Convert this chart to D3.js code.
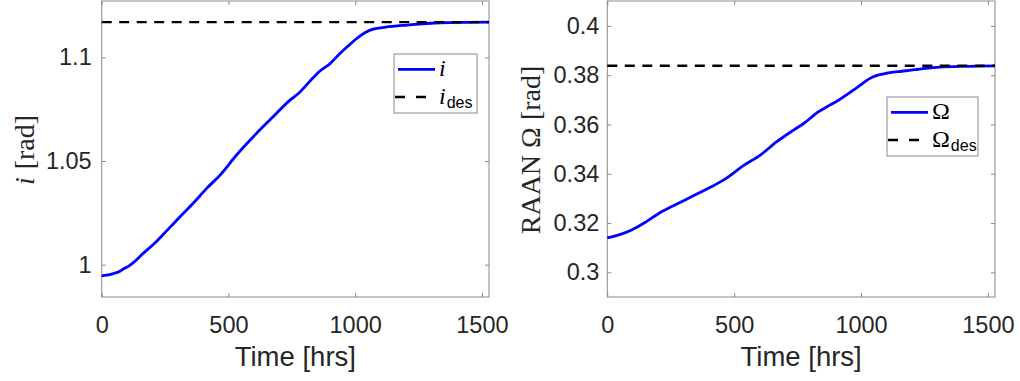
<!DOCTYPE html>
<head>
  <meta charset="utf-8">
  <script src="https://d3js.org/d3.v7.min.js"></script>
  <style>
    body { margin: 0; background: #fff; }
    .tick text { font-family: "Liberation Sans", Arial, sans-serif; font-size: 23.5px; fill: #262626; }
    .tick line { stroke: #8a8a8a; }
    .xlabel { font-family: "Liberation Sans", Arial, sans-serif; font-size: 27.5px; fill: #262626; }
    .ylabel { font-family: "Liberation Serif", "DejaVu Serif", serif; font-size: 28px; fill: #262626; }
    .leg { font-family: "Liberation Serif", "DejaVu Serif", serif; font-size: 24px; fill: #000; }
    .sub { font-family: "Liberation Sans", Arial, sans-serif; font-size: 16px; font-style: normal; }
  </style>
</head>
<body>
  <div id="vis"></div>
  <script>
    // inclination history [hrs, rad]
    var timeI = [0, 20, 46, 70, 85, 105, 125, 164, 210, 256, 309, 361, 414, 467, 532, 598, 670, 743, 776, 835, 861, 901, 940, 975, 1006, 1040, 1071, 1120, 1203, 1335, 1528];
    var incl  = [0.9946, 0.9949, 0.9957, 0.9967, 0.9979, 0.9992, 1.0010, 1.0055, 1.0105, 1.0163, 1.0231, 1.0296, 1.0368, 1.0432, 1.0529, 1.0617, 1.0706, 1.0794, 1.0826, 1.0903, 1.0934, 1.0970, 1.1019, 1.1058, 1.1091, 1.1120, 1.1136, 1.1146, 1.1156, 1.1167, 1.1170];
    var iDes = 1.117;

    // RAAN history [hrs, rad]
    var timeO = [0, 43, 96, 147, 200, 252, 305, 357, 410, 462, 535, 603, 668, 734, 774, 833, 866, 906, 971, 1000, 1030, 1060, 1102, 1160, 1219, 1311, 1420, 1528];
    var raan  = [0.3140, 0.3151, 0.3172, 0.3201, 0.3237, 0.3266, 0.3293, 0.3320, 0.3347, 0.3377, 0.3432, 0.3476, 0.3530, 0.3577, 0.3604, 0.3652, 0.3672, 0.3695, 0.3740, 0.3762, 0.3784, 0.3798, 0.3808, 0.3816, 0.3823, 0.3833, 0.3836, 0.3838];
    var raanDes = 0.3838;

    var xTicks = [0, 500, 1000, 1500];
    var iTicks = [1, 1.05, 1.1];
    var oTicks = [0.3, 0.32, 0.34, 0.36, 0.38, 0.4];

    var svg = d3.select("#vis").append("svg")
      .attr("width", 1020).attr("height", 381);

    function panel(cfg) {
      var x = d3.scaleLinear().domain([0, 1528]).range([cfg.left, cfg.right]);
      var y = d3.scaleLinear().domain(cfg.yDomain).range([297, 1]);
      var g = svg.append("g");

      g.append("g").attr("transform", "translate(0,297)")
        .call(d3.axisBottom(x).tickValues(xTicks).tickSizeInner(-4).tickSizeOuter(0).tickPadding(19).tickFormat(d3.format("d")))
        .call(function (a) { a.select(".domain").remove(); });
      g.append("g").attr("transform", "translate(0,1)")
        .call(d3.axisTop(x).tickValues(xTicks).tickSizeInner(-4).tickSizeOuter(0).tickFormat(""))
        .call(function (a) { a.select(".domain").remove(); });
      g.append("g").attr("transform", "translate(" + cfg.left + ",0)")
        .call(d3.axisLeft(y).tickValues(cfg.ticks).tickSizeInner(-4).tickSizeOuter(0).tickPadding(cfg.pad).tickFormat(d3.format("~g")))
        .call(function (a) { a.select(".domain").remove(); });
      g.append("g").attr("transform", "translate(" + cfg.right + ",0)")
        .call(d3.axisRight(y).tickValues(cfg.ticks).tickSizeInner(-4).tickSizeOuter(0).tickFormat(""))
        .call(function (a) { a.select(".domain").remove(); });

      g.append("rect")
        .attr("x", cfg.left).attr("y", 1)
        .attr("width", cfg.right - cfg.left).attr("height", 296)
        .attr("fill", "none").attr("stroke", "#8a8a8a").attr("stroke-width", 1);

      var line = d3.line().x(function (d) { return x(d[0]); }).y(function (d) { return y(d[1]); });

      g.append("path")
        .datum(cfg.t.map(function (t, k) { return [t, cfg.v[k]]; }))
        .attr("d", line.curve(d3.curveMonotoneX))
        .attr("fill", "none").attr("stroke", "#0000ff").attr("stroke-width", 2.8)
        .attr("stroke-linejoin", "round");

      g.append("path")
        .datum([[0, cfg.des], [1528, cfg.des]])
        .attr("d", line.curve(d3.curveLinear))
        .attr("fill", "none").attr("stroke", "#000").attr("stroke-width", 2.4)
        .attr("stroke-dasharray", "10,7.5");

      g.append("text").attr("class", "xlabel")
        .attr("x", (cfg.left + cfg.right) / 2).attr("y", 366)
        .attr("text-anchor", "middle").text("Time [hrs]");

      var yl = g.append("text").attr("class", "ylabel")
        .attr("transform", "translate(" + cfg.ylx + ",150) rotate(-90)")
        .attr("text-anchor", "middle").attr("dominant-baseline", "central");
      cfg.ylabel(yl);

      // legend
      var L = cfg.leg;
      g.append("rect")
        .attr("x", L.x).attr("y", L.y).attr("width", L.w).attr("height", L.h)
        .attr("fill", "#fff").attr("stroke", "#8a8a8a").attr("stroke-width", 1);
      var r1 = L.y + L.h * 0.26, r2 = L.y + L.h * 0.73;
      g.append("line").attr("x1", L.x + 4).attr("x2", L.x + 41).attr("y1", r1).attr("y2", r1)
        .attr("stroke", "#0000ff").attr("stroke-width", 2.8);
      g.append("line").attr("x1", L.x + 1).attr("x2", L.x + 33).attr("y1", r2).attr("y2", r2)
        .attr("stroke", "#000").attr("stroke-width", 2.4).attr("stroke-dasharray", "10,11");
      g.append("text").attr("class", "leg").attr("x", L.x + 45).attr("y", r1 + 7)
        .attr("font-style", cfg.sym == "i" ? "italic" : "normal").text(cfg.sym);
      var t2 = g.append("text").attr("class", "leg").attr("x", L.x + 45).attr("y", r2 + 7);
      t2.append("tspan").attr("font-style", cfg.sym == "i" ? "italic" : "normal").text(cfg.sym);
      t2.append("tspan").attr("class", "sub").attr("dy", 3.5).attr("dx", 1).text("des");
    }

    panel({
      left: 101.7, right: 489, yDomain: [0.9844, 1.1272], ticks: iTicks, pad: 10,
      t: timeI, v: incl, des: iDes, ylx: 24, sym: "i",
      leg: { x: 394, y: 54, w: 83, h: 59 },
      ylabel: function (t) {
        t.append("tspan").attr("font-style", "italic").text("i");
        t.append("tspan").attr("dx", 8).text("[rad]");
      }
    });

    panel({
      left: 607.3, right: 995, yDomain: [0.29, 0.4101], ticks: oTicks, pad: 8,
      t: timeO, v: raan, des: raanDes, ylx: 530, sym: "\u03A9",
      leg: { x: 887, y: 97, w: 91, h: 59 },
      ylabel: function (t) { t.text("RAAN \u03A9 [rad]"); }
    });
  </script>
</body>
